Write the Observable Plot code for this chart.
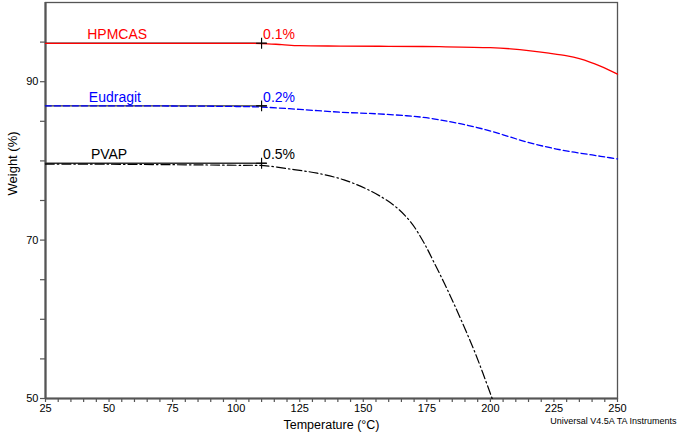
<!DOCTYPE html>
<html>
<head>
<meta charset="utf-8">
<script src="https://cdn.jsdelivr.net/npm/d3@7"></script>
<script src="https://cdn.jsdelivr.net/npm/@observablehq/plot@0.6"></script>
<style>
  html, body { margin: 0; padding: 0; background: #fff; }
  #chart svg { display: block; }
</style>
</head>
<body>
<div id="chart"></div>
<script>
// ---- data ----
const hpmcasT = [25, 50, 75, 100, 110, 118, 125, 141, 160, 180, 200, 208, 215.8, 223, 230.2, 235, 239.4, 243, 246.5, 250];
const hpmcasW = [94.85, 94.85, 94.85, 94.84, 94.82, 94.68, 94.55, 94.5, 94.47, 94.42, 94.3, 94.15, 93.9, 93.6, 93.25, 92.9, 92.45, 92.0, 91.5, 90.95];

const eudT = [25, 50, 75, 100, 110, 125, 141, 155, 167, 176, 184, 191, 198, 205, 212, 219, 226, 233, 240, 245, 250];
const eudW = [86.95, 86.95, 86.93, 86.87, 86.8, 86.5, 86.15, 85.95, 85.7, 85.4, 84.95, 84.5, 83.95, 83.3, 82.6, 82.0, 81.5, 81.1, 80.75, 80.5, 80.25];

const pvapT = [25, 50, 75, 100, 110.9, 122.7, 131.9, 142.4, 152.9, 162, 168.6, 173.8, 177.8, 183, 188.3, 194.2, 200.7];
const pvapW = [79.6, 79.58, 79.52, 79.45, 79.4, 78.9, 78.45, 77.6, 76.2, 74.4, 72.3, 69.7, 67.2, 63.8, 60.05, 55.6, 50];

const seriesNames = ["HPMCAS", "Eudragit", "PVAP"];
const seriesColors = ["#ff0000", "#0000ff", "#000000"];
const onsetW = [94.85, 86.95, 79.7];     // horizontal baseline level
const onsetT = 110;                       // marker temperature
const baseStartT = 25, baseEndT = 111.8;
const lossLabels = ["0.1%", "0.2%", "0.5%"];
const lossLabelW = [95.4, 87.5, 80.3];
const nameT = [53.2, 52.3, 50];
const nameW = [95.4, 87.5, 80.3];

const xTicks = d3.range(25, 251, 5);
const xLabelTicks = [25, 50, 75, 100, 125, 150, 175, 200, 225, 250];
const yTicks = [50, 55, 60, 65, 70, 75, 80, 85, 90, 95];
const yLabelTicks = [50, 70, 90];

// ---- tables ----
const toRows = (T, W, s) => T.map((t, i) => ({t, w: W[i], s}));
const hpmcas = toRows(hpmcasT, hpmcasW, "HPMCAS");
const eud = toRows(eudT, eudW, "Eudragit");
const pvap = toRows(pvapT, pvapW, "PVAP");
const baselines = seriesNames.flatMap((s, i) => [
  {s, t: baseStartT, w: onsetW[i]}, {s, t: baseEndT, w: onsetW[i]}
]);
const markers = seriesNames.map((s, i) => ({s, t: onsetT, w: onsetW[i]}));
const lossRows = seriesNames.map((s, i) => ({s, t: onsetT + 0.6, w: lossLabelW[i], label: lossLabels[i], c: seriesColors[i]}));
const nameRows = seriesNames.map((s, i) => ({s, t: nameT[i], w: nameW[i], c: seriesColors[i]}));

const font = "'Liberation Sans', Arial, Helvetica, sans-serif";
const axisColor = "#555";

const chart = Plot.plot({
  width: 680,
  height: 436,
  marginLeft: 45,
  marginRight: 63,
  marginTop: 2,
  marginBottom: 38,
  style: {fontFamily: font, fontSize: "11px", color: "#000", background: "#fff"},
  x: {domain: [25, 250]},
  y: {domain: [50, 100]},
  marks: [
    Plot.frame({stroke: axisColor, strokeWidth: 1.3}),
    Plot.axisX({ticks: xTicks, tickSize: 4, tickPadding: 2, stroke: axisColor, strokeWidth: 1.2, strokeOpacity: 1, fill: "#000",
      tickFormat: d => xLabelTicks.includes(d) ? String(d) : "", label: null}),
    Plot.axisY({ticks: yTicks, tickSize: 5, tickPadding: 2, stroke: axisColor, strokeWidth: 1.2, strokeOpacity: 1, fill: "#000",
      tickFormat: d => yLabelTicks.includes(d) ? String(d) : "", label: null}),
    Plot.ruleX([25], {stroke: axisColor, strokeWidth: 2.2}),
    Plot.ruleY([50], {stroke: axisColor, strokeWidth: 2.2}),
    // baselines (tangents)
    Plot.line(baselines, {x: "t", y: "w", z: "s", stroke: "#333", strokeWidth: 1.4}),
    // curves
    Plot.line(hpmcas, {x: "t", y: "w", stroke: seriesColors[0], strokeWidth: 1.3, curve: "catmull-rom"}),
    Plot.line(eud, {x: "t", y: "w", stroke: seriesColors[1], strokeWidth: 1.3, strokeDasharray: "6,3", curve: "catmull-rom"}),
    Plot.line(pvap, {x: "t", y: "w", stroke: seriesColors[2], strokeWidth: 1.2, strokeDasharray: "9,3,1.5,3", curve: "catmull-rom"}),
    // markers
    Plot.dot(markers, {x: "t", y: "w", symbol: "plus", r: 3.6, stroke: "#000", strokeWidth: 1.1}),
    // labels
    Plot.text(lossRows, {x: "t", y: "w", text: "label", fill: "c", textAnchor: "start", lineAnchor: "bottom", fontSize: 14}),
    Plot.text(nameRows, {x: "t", y: "w", text: "s", fill: "c", textAnchor: "middle", lineAnchor: "bottom", fontSize: 14}),
    Plot.text(["Weight (%)"], {frameAnchor: "left", dx: -33, dy: -5, rotate: -90, fontSize: 13, fill: "#000"}),
    Plot.text(["Temperature (°C)"], {frameAnchor: "bottom", dy: 30, fontSize: 12.5, fill: "#000"}),
    Plot.text(["Universal V4.5A TA Instruments"], {frameAnchor: "bottom-right", dx: 59, dy: 25, textAnchor: "end", fontSize: 9, fill: "#000"})
  ]
});

document.getElementById("chart").appendChild(chart);
</script>
</body>
</html>
